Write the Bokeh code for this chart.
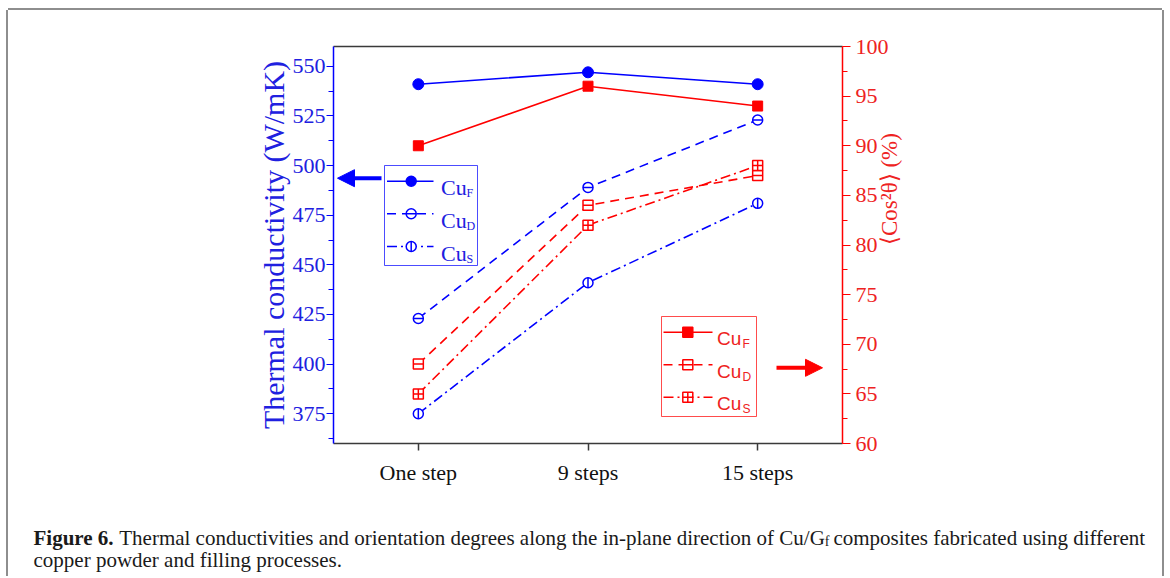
import numpy as np
from bokeh.plotting import figure
from bokeh.layouts import column
from bokeh.models import (Range1d, LinearAxis, SingleIntervalTicker, FixedTicker,
                          Label, Arrow, NormalHead, BoxAnnotation)
from bokeh.embed import file_html
from bokeh.resources import INLINE

# ---------------- data ----------------
categories = ["One step", "9 steps", "15 steps"]
tc_cuf = [541, 547, 541]      # thermal conductivity, W/mK (left axis)
tc_cud = [423, 489, 523]
tc_cus = [375, 441, 481]
or_cuf = [90, 96, 94]         # <cos^2 theta> (%) (right axis)
or_cud = [68, 84, 87]
or_cus = [65, 82, 88]
legend_names = ["F", "D", "S"]
caption_bold = "Figure 6."
caption_main = "Thermal conductivities and orientation degrees along the in-plane direction of Cu/G"
caption_sub = "f"
caption_tail = "composites fabricated using different"
caption_line2 = "copper powder and filling processes."

BLUE = "#0000ff"
BLUE_T = "#2020e0"
RED = "#ff0000"
RED_T = "#ee2222"
SERIF = "Liberation Serif"
SANS = "Liberation Sans"

OX, OY = 8, 10                        # page offset of the layout
W, H = 1154, 480
FL, FT, FW, FH = 325, 36, 509, 397    # frame in canvas px
CAP_H = 86

xs = list(range(len(categories)))

p = figure(width=W, height=H, output_backend="svg", toolbar_location=None,
           x_range=Range1d(-0.5, len(categories) - 0.5), y_range=Range1d(360, 560),
           min_border_left=FL, min_border_right=W - FL - FW,
           min_border_top=FT, min_border_bottom=H - FT - FH,
           background_fill_color="white", border_fill_color="white",
           outline_line_color=None, frame_align=False)
p.extra_y_ranges = {"right": Range1d(60, 100)}
p.xgrid.visible = False
p.ygrid.visible = False

# page px -> data helpers (frame at page x 333..842, y 46..443)
PX0, PY0 = OX + FL, OY + FT
def dx(px):
    return -0.5 + (px - PX0) / FW * len(categories)
def dy(py):
    return 560 - (py - PY0) / FH * 200

# ---------------- axes ----------------
xa = p.xaxis[0]
xa.ticker = FixedTicker(ticks=xs)
xa.major_label_overrides = {i: c for i, c in zip(xs, categories)}
xa.axis_line_color = "#3a3a3a"
xa.axis_line_width = 1.5
xa.major_tick_line_color = "#3a3a3a"
xa.major_tick_line_width = 1.5
xa.major_tick_out = 7
xa.major_tick_in = 0
xa.minor_tick_line_color = None
xa.major_label_text_font = SERIF
xa.major_label_text_font_size = "22px"
xa.major_label_text_color = "#111111"
xa.major_label_standoff = 9

ya = p.yaxis[0]
ya.ticker = SingleIntervalTicker(interval=25, num_minor_ticks=2)
ya.axis_line_color = BLUE
ya.axis_line_width = 1.5
ya.major_tick_line_color = BLUE
ya.minor_tick_line_color = BLUE
ya.major_tick_line_width = 1.2
ya.minor_tick_line_width = 1.2
ya.major_tick_out = 7
ya.major_tick_in = 0
ya.minor_tick_out = 5
ya.minor_tick_in = 0
ya.major_label_text_font = SERIF
ya.major_label_text_font_size = "22px"
ya.major_label_text_color = BLUE_T
ya.major_label_standoff = 1
ya.axis_label = "Thermal conductivity (W/mK)"
ya.axis_label_text_font = SERIF
ya.axis_label_text_font_size = "30px"
ya.axis_label_text_font_style = "normal"
ya.axis_label_text_color = BLUE_T
ya.axis_label_standoff = 0

ra = LinearAxis(y_range_name="right",
                ticker=SingleIntervalTicker(interval=5, num_minor_ticks=2),
                axis_line_color=RED, axis_line_width=1.5,
                major_tick_line_color=RED, minor_tick_line_color=RED,
                major_tick_line_width=1.2, minor_tick_line_width=1.2,
                major_tick_out=8, major_tick_in=0, minor_tick_out=5, minor_tick_in=0,
                major_label_text_font=SERIF, major_label_text_font_size="22px",
                major_label_text_color=RED_T, major_label_standoff=5,
                axis_label="\u27e8Cos\u00b2\u03b8\u27e9 (%)",
                axis_label_text_font=SERIF, axis_label_text_font_size="23px",
                axis_label_text_font_style="normal", axis_label_text_color=RED_T,
                axis_label_standoff=-2, axis_label_orientation=np.pi / 2)
p.add_layout(ra, "right")

ta = LinearAxis(ticker=FixedTicker(ticks=[]), axis_line_color="#3a3a3a", axis_line_width=1.5,
                major_tick_line_color=None, minor_tick_line_color=None,
                major_label_text_font_size="0px")
p.add_layout(ta, "above")

# ---------------- data series ----------------
D_DASH = "9 6"
S_DASH = "10 4 2 4"
LW = 1.6
MS = 10

# blue (left axis)
p.line(xs, tc_cuf, line_color=BLUE, line_width=LW)
p.line(xs, tc_cud, line_color=BLUE, line_width=LW, line_dash=D_DASH)
p.line(xs, tc_cus, line_color=BLUE, line_width=LW, line_dash=S_DASH)
p.scatter(xs, tc_cuf, marker="circle", size=MS + 1, fill_color=BLUE, line_color=BLUE)
p.scatter(xs, tc_cud, marker="circle", size=MS, fill_color="white", line_color=BLUE, line_width=1.5)
p.scatter(xs, tc_cud, marker="dash", size=MS, line_color=BLUE, line_width=1.5)
p.scatter(xs, tc_cus, marker="circle", size=MS, fill_color="white", line_color=BLUE, line_width=1.5)
p.scatter(xs, tc_cus, marker="dash", size=MS, angle=np.pi / 2, line_color=BLUE, line_width=1.5)

# red (right axis)
p.line(xs, or_cuf, line_color=RED, line_width=LW, y_range_name="right")
p.line(xs, or_cud, line_color=RED, line_width=LW, line_dash=D_DASH, y_range_name="right")
p.line(xs, or_cus, line_color=RED, line_width=LW, line_dash=S_DASH, y_range_name="right")
p.scatter(xs, or_cuf, marker="square", size=MS, fill_color=RED, line_color=RED, y_range_name="right")
p.scatter(xs, or_cud, marker="square", size=MS, fill_color="white", line_color=RED, line_width=1.5,
          y_range_name="right")
p.scatter(xs, or_cud, marker="dash", size=MS, line_color=RED, line_width=1.5, y_range_name="right")
p.scatter(xs, or_cus, marker="square_cross", size=MS, fill_color="white", line_color=RED,
          line_width=1.5, y_range_name="right")

# ---------------- legends ----------------
def legend_block(box, rows, line_x, mark_x, text_x, color, tcolor, font, fs, sub_dx, markers):
    l, t, r, b = box
    p.add_layout(BoxAnnotation(left=dx(l), right=dx(r), top=dy(t), bottom=dy(b),
                               fill_color=None, line_color=color, line_width=1, line_alpha=0.7))
    dashes = ["solid", D_DASH, S_DASH]
    for i, ry in enumerate(rows):
        p.line([dx(line_x[0]), dx(line_x[1])], [dy(ry), dy(ry)], line_color=color,
               line_width=LW, line_dash=dashes[i])
        for kind, fill, ang in markers[i]:
            p.scatter([dx(mark_x)], [dy(ry)], marker=kind, size=MS, angle=ang,
                      fill_color=fill, line_color=color, line_width=1.5)
        p.add_layout(Label(x=dx(text_x), y=dy(ry + 6.5), text="Cu", text_font=font,
                           text_font_size=fs, text_color=tcolor, text_baseline="alphabetic"))
        p.add_layout(Label(x=dx(text_x + sub_dx), y=dy(ry + 12), text=legend_names[i],
                           text_font=font, text_font_size="12px", text_color=tcolor,
                           text_baseline="alphabetic"))

legend_block((384, 165, 477, 265), [180.7, 213.3, 246.0], (386.5, 433), 410.7, 440.5,
             BLUE, BLUE_T, SERIF, "22px", 25.5,
             [[("circle", BLUE, 0)],
              [("circle", "white", 0), ("dash", None, 0)],
              [("circle", "white", 0), ("dash", None, np.pi / 2)]])
legend_block((661, 316, 756, 416), [331.7, 364.3, 396.7], (663, 712), 687.3, 716.5,
             RED, RED_T, SANS, "19px", 25.5,
             [[("square", RED, 0)],
              [("square", "white", 0), ("dash", None, 0)],
              [("square_cross", "white", 0)]])

# arrows
p.add_layout(Arrow(end=NormalHead(size=17, fill_color=BLUE, line_color=BLUE),
                   x_start=dx(381), y_start=dy(177.7), x_end=dx(337), y_end=dy(177.7),
                   line_color=BLUE, line_width=4))
p.add_layout(Arrow(end=NormalHead(size=17, fill_color=RED, line_color=RED),
                   x_start=dx(776), y_start=dy(367.3), x_end=dx(822), y_end=dy(367.3),
                   line_color=RED, line_width=4))

# ---------------- caption (own figure, frame == canvas, px coordinates) ----------------
CAP_TOP = OY + H
cap = figure(width=W, height=CAP_H, output_backend="svg", toolbar_location=None,
             x_range=Range1d(0, W), y_range=Range1d(CAP_H, 0), min_border=0,
             x_axis_location=None, y_axis_location=None, outline_line_color=None,
             background_fill_color="white", border_fill_color="white", frame_align=False)
cap.xgrid.visible = False
cap.ygrid.visible = False

CAP_FS = 21
y1, y2 = 537 - CAP_TOP, 559 - CAP_TOP
x_bold = 33 - OX
x_main = x_bold + 3.833 * CAP_FS + 0.25 * CAP_FS
x_sub = x_main + 33.55 * CAP_FS + 1
x_tail = x_sub + 0.333 * 14 + 4
cap.add_layout(Label(x=x_bold, y=y1, text=caption_bold, text_font=SERIF,
                     text_font_style="bold", text_font_size=f"{CAP_FS}px", text_color="#1a1a1a",
                     text_baseline="alphabetic"))
cap.add_layout(Label(x=x_main, y=y1, text=caption_main, text_font=SERIF,
                     text_font_size=f"{CAP_FS}px", text_color="#1a1a1a", text_baseline="alphabetic"))
cap.add_layout(Label(x=x_sub, y=y1 + 4, text=caption_sub, text_font=SERIF,
                     text_font_size="14px", text_color="#1a1a1a", text_baseline="alphabetic"))
cap.add_layout(Label(x=x_tail, y=y1, text=caption_tail, text_font=SERIF,
                     text_font_size=f"{CAP_FS}px", text_color="#1a1a1a", text_baseline="alphabetic"))
cap.add_layout(Label(x=x_bold, y=y2, text=caption_line2, text_font=SERIF,
                     text_font_size=f"{CAP_FS}px", text_color="#1a1a1a", text_baseline="alphabetic"))

layout = column(p, cap, spacing=0, margin=(OY, 0, 0, OX),
                styles={"box-shadow": "-2px 0 0 #8e8e8e, 2px 0 0 #8e8e8e, 0 -2px 0 #8e8e8e"})

open("out.html", "w").write(file_html(layout, INLINE))
